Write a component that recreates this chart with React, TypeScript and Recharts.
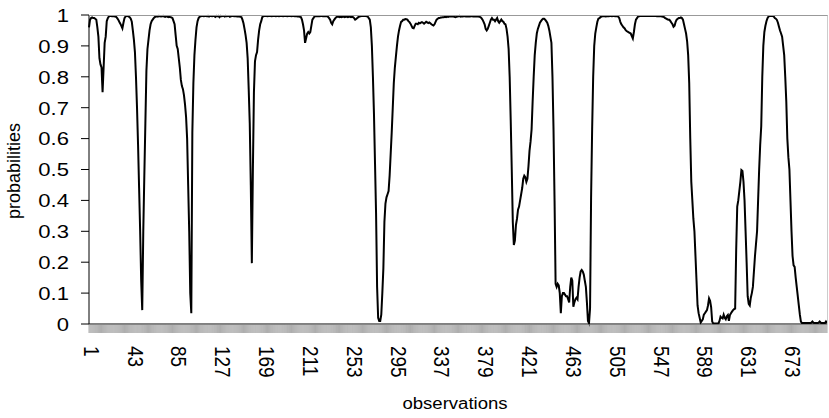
import { Line, LineChart, XAxis, YAxis } from "recharts";

const probs = [
  0.96, 0.985, 0.99, 0.992, 0.99, 0.99, 0.988, 0.985, 0.96, 0.93,
  0.86, 0.84, 0.83, 0.75, 0.83, 0.91, 0.93, 0.98, 0.99, 0.995,
  0.997, 0.997, 0.996, 0.997, 0.996, 0.995, 0.994, 0.99, 0.985, 0.978,
  0.972, 0.965, 0.957, 0.975, 0.99, 0.995, 0.997, 0.997, 0.995, 0.993,
  0.988, 0.978, 0.95, 0.92, 0.88, 0.8, 0.7, 0.58, 0.44, 0.3,
  0.14, 0.045, 0.3, 0.48, 0.65, 0.82, 0.89, 0.92, 0.95, 0.97,
  0.98, 0.985, 0.99, 0.993, 0.995, 0.996, 0.995, 0.997, 0.996, 0.995,
  0.996, 0.997, 0.995, 0.994, 0.996, 0.995, 0.993, 0.994, 0.993, 0.992,
  0.99, 0.98, 0.97, 0.935, 0.9, 0.89, 0.86, 0.83, 0.79, 0.77,
  0.76, 0.74, 0.71, 0.67, 0.6, 0.45, 0.3, 0.1, 0.035, 0.62,
  0.78, 0.87, 0.92, 0.96, 0.98, 0.99, 0.994, 0.996, 0.997, 0.997,
  0.996, 0.997, 0.997, 0.996, 0.997, 0.995, 0.997, 0.997, 0.996, 0.997,
  0.997, 0.994, 0.997, 0.996, 0.997, 0.993, 0.997, 0.996, 0.997, 0.997,
  0.995, 0.997, 0.996, 0.997, 0.997, 0.994, 0.996, 0.997, 0.997, 0.996,
  0.997, 0.996, 0.995, 0.996, 0.995, 0.994, 0.993, 0.985, 0.973, 0.955,
  0.935, 0.91, 0.86, 0.76, 0.65, 0.45, 0.197, 0.5, 0.75, 0.85,
  0.87, 0.88, 0.92, 0.95, 0.97, 0.98, 0.993, 0.996, 0.997, 0.997,
  0.997, 0.996, 0.997, 0.997, 0.997, 0.996, 0.997, 0.997, 0.997, 0.996,
  0.997, 0.997, 0.996, 0.997, 0.997, 0.997, 0.996, 0.997, 0.997, 0.997,
  0.996, 0.997, 0.997, 0.997, 0.996, 0.997, 0.997, 0.996, 0.997, 0.996,
  0.995, 0.995, 0.994, 0.993, 0.985, 0.97, 0.95, 0.91, 0.925, 0.94,
  0.945, 0.94, 0.945, 0.965, 0.985, 0.99, 0.995, 0.996, 0.997, 0.996,
  0.997, 0.996, 0.997, 0.997, 0.996, 0.997, 0.996, 0.997, 0.996, 0.994,
  0.99, 0.985, 0.975, 0.97, 0.98, 0.985, 0.99, 0.993, 0.994, 0.994,
  0.993, 0.994, 0.993, 0.994, 0.994, 0.993, 0.994, 0.994, 0.993, 0.994,
  0.994, 0.993, 0.994, 0.993, 0.99, 0.985, 0.987, 0.99, 0.993, 0.995,
  0.996, 0.997, 0.997, 0.997, 0.997, 0.997, 0.996, 0.995, 0.99, 0.985,
  0.96, 0.9, 0.8, 0.68, 0.52, 0.36, 0.12, 0.02, 0.01, 0.01,
  0.03, 0.1, 0.18, 0.33, 0.39, 0.41, 0.42, 0.43, 0.48, 0.55,
  0.62, 0.7, 0.78, 0.83, 0.865, 0.9, 0.93, 0.95, 0.965, 0.978,
  0.98, 0.985, 0.985, 0.987, 0.986, 0.985, 0.98, 0.977, 0.972, 0.965,
  0.958, 0.957, 0.965, 0.972, 0.972, 0.97, 0.975, 0.973, 0.975, 0.977,
  0.975, 0.972, 0.975, 0.978, 0.976, 0.974, 0.976, 0.973, 0.97, 0.968,
  0.966, 0.97, 0.978, 0.985, 0.988, 0.99, 0.99, 0.992, 0.992, 0.993,
  0.993, 0.994, 0.993, 0.995, 0.994, 0.995, 0.996, 0.995, 0.996, 0.995,
  0.994, 0.993, 0.994, 0.995, 0.996, 0.997, 0.995, 0.996, 0.995, 0.996,
  0.996, 0.995, 0.996, 0.995, 0.996, 0.995, 0.996, 0.996, 0.995, 0.996,
  0.995, 0.996, 0.995, 0.995, 0.994, 0.993, 0.99, 0.985, 0.978, 0.97,
  0.955, 0.95, 0.955, 0.965, 0.975, 0.985, 0.99, 0.985, 0.985, 0.98,
  0.985, 0.99, 0.98, 0.975, 0.98, 0.985, 0.98, 0.978, 0.972, 0.97,
  0.955, 0.93, 0.89, 0.8, 0.66, 0.5, 0.33, 0.256, 0.27, 0.32,
  0.34, 0.37, 0.38, 0.4, 0.42, 0.44, 0.47, 0.48, 0.475, 0.46,
  0.47, 0.51, 0.56, 0.59, 0.63, 0.72, 0.8, 0.87, 0.91, 0.94,
  0.955, 0.965, 0.975, 0.98, 0.985, 0.988, 0.988, 0.985, 0.98, 0.975,
  0.965, 0.95, 0.93, 0.91, 0.8, 0.63, 0.4, 0.13, 0.12, 0.13,
  0.125, 0.1, 0.035, 0.09, 0.1, 0.1, 0.095, 0.09, 0.09, 0.08,
  0.07, 0.12, 0.15, 0.14, 0.056, 0.07, 0.08, 0.085, 0.08, 0.12,
  0.15, 0.17, 0.175, 0.17, 0.16, 0.14, 0.12, 0.07, 0.01, 0.003,
  0.05, 0.41, 0.63, 0.8, 0.9, 0.94, 0.96, 0.978, 0.988, 0.99,
  0.993, 0.995, 0.996, 0.997, 0.996, 0.995, 0.996, 0.997, 0.996, 0.997,
  0.997, 0.996, 0.997, 0.997, 0.996, 0.997, 0.996, 0.995, 0.99, 0.978,
  0.97, 0.965, 0.96, 0.957, 0.952, 0.948, 0.946, 0.944, 0.942, 0.94,
  0.932, 0.924, 0.945, 0.97, 0.985, 0.99, 0.995, 0.996, 0.997, 0.997,
  0.997, 0.997, 0.997, 0.997, 0.997, 0.997, 0.997, 0.997, 0.997, 0.997,
  0.997, 0.997, 0.997, 0.997, 0.996, 0.997, 0.996, 0.997, 0.996, 0.995,
  0.994, 0.993, 0.99, 0.988, 0.986, 0.985, 0.985, 0.98, 0.975, 0.97,
  0.962, 0.965, 0.978, 0.985, 0.988, 0.99, 0.99, 0.992, 0.99, 0.985,
  0.97, 0.955, 0.94, 0.915, 0.87, 0.78, 0.6, 0.46, 0.4, 0.34,
  0.3, 0.22, 0.14, 0.06, 0.035, 0.02, 0.005, 0.01, 0.015, 0.03,
  0.035, 0.04, 0.045, 0.06, 0.083, 0.075, 0.055, 0.008, 0.002, 0.002,
  0.002, 0.002, 0.002, 0.002, 0.01, 0.024, 0.02, 0.018, 0.03, 0.02,
  0.015, 0.025, 0.029, 0.01, 0.029, 0.035, 0.04, 0.045, 0.048, 0.05,
  0.24, 0.38, 0.4, 0.43, 0.46, 0.498, 0.495, 0.46, 0.4, 0.3,
  0.2, 0.09, 0.065, 0.06, 0.085, 0.1, 0.12, 0.17, 0.22, 0.26,
  0.3, 0.4, 0.5, 0.58, 0.64, 0.8, 0.9, 0.945, 0.965, 0.98,
  0.99, 0.995, 0.997, 0.997, 0.997, 0.997, 0.995, 0.99, 0.988, 0.984,
  0.975, 0.962, 0.95, 0.94, 0.93, 0.9, 0.87, 0.8, 0.72, 0.6,
  0.54, 0.5, 0.4, 0.3, 0.22, 0.19, 0.185, 0.15, 0.12, 0.09,
  0.06, 0.03, 0.008, 0.003, 0.003, 0.003, 0.003, 0.003, 0.003, 0.003,
  0.003, 0.003, 0.004, 0.008, 0.004, 0.003, 0.003, 0.003, 0.003, 0.004,
  0.008, 0.004, 0.003, 0.003, 0.003, 0.003, 0.008, 0.003,
];

const xLabels = [1, 43, 85, 127, 169, 211, 253, 295, 337, 379, 421, 463, 505, 547, 589, 631, 673];
const yTicks = [0, 0.1, 0.2, 0.3, 0.4, 0.5, 0.6, 0.7, 0.8, 0.9, 1];

const data = probs.map((p, i) => ({ obs: i + 1, p }));

const FONT = "'Liberation Sans', Arial, sans-serif";
const STRETCH = 1.16;

function XTick({ x, y, payload }: any) {
  if (!xLabels.includes(payload.value)) return null;
  return (
    <text
      transform={`translate(${x},${y}) scale(${STRETCH},1) rotate(90)`}
      dy={4.6}
      textAnchor="start"
      fontSize={19}
      fontFamily={FONT}
      fill="#000"
    >
      {payload.value}
    </text>
  );
}

function YTick({ x, y, payload }: any) {
  return (
    <text
      transform={`translate(${x},${y}) scale(${STRETCH},1)`}
      dy="0.36em"
      textAnchor="end"
      fontSize={19}
      fontFamily={FONT}
      fill="#000"
    >
      {payload.value}
    </text>
  );
}

export default function App() {
  return (
    <div style={{ position: "absolute", left: 0, top: 0, width: 829, height: 418, background: "#fff" }}>
      <LineChart width={829} height={418} data={data} margin={{ top: 15, right: 1, left: 0, bottom: 0 }}>
        <XAxis
          dataKey="obs"
          interval={0}
          tickSize={9}
          tickMargin={13}
          tick={<XTick />}
          tickLine={{ stroke: "#8a8a8a", strokeWidth: 0.7 }}
          axisLine={{ stroke: "#000" }}
          padding={{ left: 0, right: 1 }}
          height={94}
          label={{
            content: () => (
              <text x={455} y={409} textAnchor="middle" fontSize={16} fontFamily={FONT}
                transform={`translate(455,0) scale(${STRETCH},1) translate(-455,0)`}>
                observations
              </text>
            ),
          }}
        />
        <YAxis
          domain={[0, 1]}
          ticks={yTicks}
          width={89}
          tickSize={8}
          tickMargin={12}
          tick={<YTick />}
          tickLine={{ stroke: "#000" }}
          axisLine={{ stroke: "#000" }}
          label={{
            content: () => (
              <text transform={`translate(20,171) rotate(-90)`} textAnchor="middle" fontSize={18} fontFamily={FONT}>
                probabilities
              </text>
            ),
          }}
        />
        <Line type="linear" dataKey="p" stroke="#000" strokeWidth={2} dot={false} isAnimationActive={false} />
      </LineChart>
      <div style={{ position: "absolute", left: 89, top: 15, width: 738, height: 309, borderTop: "1px solid #999", borderRight: "1px solid #ccc", pointerEvents: "none" }} />
    </div>
  );
}
